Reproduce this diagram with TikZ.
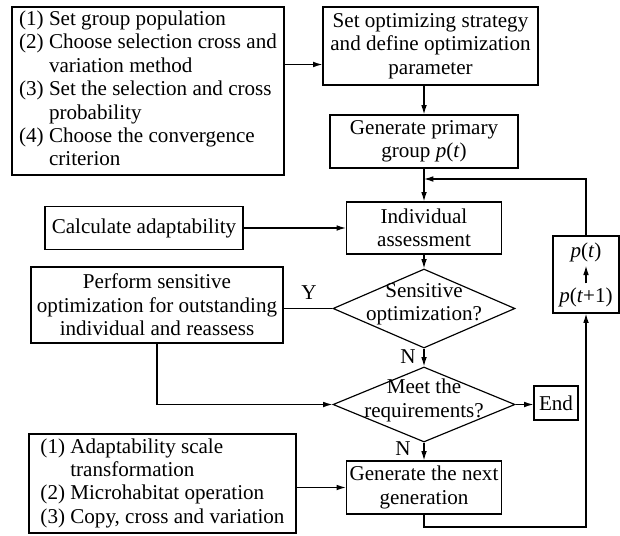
\documentclass[tikz,border=0pt]{standalone}
\usepackage{fontspec}
\setmainfont{Liberation Serif}
\usetikzlibrary{arrows.meta,shapes.geometric}
\begin{document}
\begin{tikzpicture}[x=0.03cm, y=-0.03cm,
    font=\fontsize{18}{20}\selectfont,
    block/.style={draw, line width=1pt, inner sep=1pt, align=center},
    decision/.style={draw, line width=1pt, diamond, inner sep=0pt},
    flow/.style={line width=1pt, -{Latex[length=2.8mm,width=1.7mm]}},
    plain/.style={line width=1pt}]
    \useasboundingbox (0,0) rectangle (620,535);

    \node[block, minimum width=8.16cm, minimum height=5.04cm] (params) at (148,91) {%
        \begin{tabular}{@{}l@{~}l@{}}
        (1) & Set group population\\
        (2) & Choose selection cross and\\
            & variation method\\
        (3) & Set the selection and cross\\
            & probability\\
        (4) & Choose the convergence\\
            & criterion
        \end{tabular}};
    \node[block, minimum width=6.45cm, minimum height=2.34cm] (strategy) at (430.5,46) {Set optimizing strategy\\and define optimization\\parameter};
    \node[block, minimum width=5.64cm, minimum height=1.59cm] (primary) at (424,141.5) {Generate primary\\group \textit{p}(\textit{t})};
    \node[block, minimum width=4.65cm, minimum height=1.56cm] (assess) at (424,228) {Individual\\assessment};
    \node[block, minimum width=5.94cm, minimum height=1.29cm] (calc) at (144,228) {Calculate adaptability};
    \node[decision, minimum width=5.46cm, minimum height=2.37cm] (sens) at (424,308.5) {};
    \node[align=center] (sens-text) at (424,304) {Sensitive\\optimization?};
    \node[block, minimum width=7.56cm, minimum height=2.28cm] (perform) at (157,305) {Perform sensitive\\optimization for outstanding\\individual and reassess};
    \node[decision, minimum width=5.46cm, minimum height=2.25cm] (meet) at (424,404.5) {};
    \node[align=center] (meet-text) at (424,400.5) {Meet the\\requirements?};
    \node[block, minimum width=1.32cm, minimum height=1.02cm] (finish) at (556,403) {End};
    \node[block, minimum width=4.65cm, minimum height=1.59cm] (next) at (424,487.5) {Generate the next\\generation};
    \node[block, minimum width=8.01cm, minimum height=2.97cm] (ops) at (162.5,483.5) {%
        \begin{tabular}{@{}l@{~}l@{}}
        (1) & Adaptability scale\\
            & transformation\\
        \multicolumn{2}{@{}l@{}}{(2) Microhabitat operation}\\
        \multicolumn{2}{@{}l@{}}{(3) Copy, cross and variation}
        \end{tabular}};
    \node[block, minimum width=1.98cm, minimum height=2.31cm] (swap) at (586,274.5) {};
    \node (pt) at (586,252) {\textit{p}(\textit{t})};
    \node (ptn) at (586,297) {\textit{p}(\textit{t}+1)};
    \node (yes) at (309,293) {Y};
    \node (no1) at (408,357) {N};
    \node (no2) at (403,449) {N};

    \coordinate (link) at (284,64.5);
    \coordinate (merge) at (424,179);
    \coordinate (low) at (588,527);

    \draw[flow] (params.east |- link) -- (strategy.west |- link);
    \draw[flow] (strategy.south -| primary.north) -- (primary.north);
    \draw[flow] (primary.south) -- (assess.north);
    \draw[flow] (calc.east) -- (assess.west);
    \draw[flow] (assess.south) -- (sens.north);
    \draw[plain] (sens.west) -- (sens.west -| perform.east);
    \draw[flow] (sens.south) -- (meet.north);
    \draw[flow] (perform.south) |- (meet.west);
    \draw[flow] (meet.east) -- (meet.east -| finish.west);
    \draw[flow] (meet.south) -- (next.north);
    \draw[flow] (ops.east |- next.west) -- (next.west);
    \draw[flow] (next.south) -- (next.south |- low) -| (swap.south);
    \draw[flow] (swap.north) |- (merge);
    \draw[flow] (ptn.north) -- (pt.south);
\end{tikzpicture}
\end{document}
